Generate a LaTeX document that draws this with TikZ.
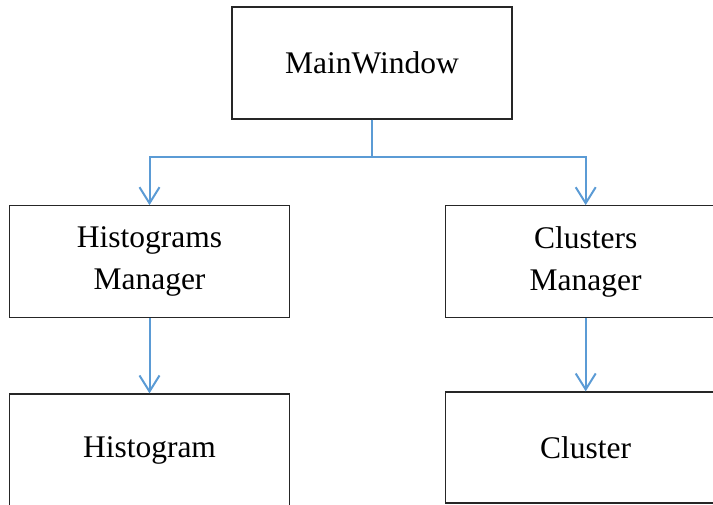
\documentclass[tikz,border=0pt]{standalone}
\usepackage{fontspec}
\setmainfont{Liberation Serif}
\usetikzlibrary{arrows.meta}
\begin{document}
\begin{tikzpicture}[x=1pt,y=-1pt,
  box/.style={draw=black!85,line width=1.3pt,minimum width=280pt,inner sep=0pt,
    align=center,font=\fontsize{31.5}{42}\selectfont},
  link/.style={draw={rgb,255:red,91;green,155;blue,213},line width=2pt,
    -{Straight Barb[length=16pt,width=20pt]}}
]
\useasboundingbox (0,0) rectangle (713,504);
% class boxes
\node[box,minimum height=112pt] (mw) at (372,63) {MainWindow};
\node[box,minimum height=111.5pt] (hm) at (149.5,261.5) {Histograms\\Manager};
\node[box,minimum height=111.5pt] (cm) at (585.7,261.5) {Clusters\\Manager};
\node[box,minimum height=112pt] (hg) at (149.5,450) {Histogram};
\node[box,minimum height=111pt] (cl) at (585.7,447.5) {Cluster};
% ownership links
\draw[link] (mw.south) -- ++(0,37) -| (hm.north);
\draw[link] (mw.south) -- ++(0,37) -| (cm.north);
\draw[link] (hm.south) -- (hg.north);
\draw[link] (cm.south) -- (cl.north);
\end{tikzpicture}
\end{document}
